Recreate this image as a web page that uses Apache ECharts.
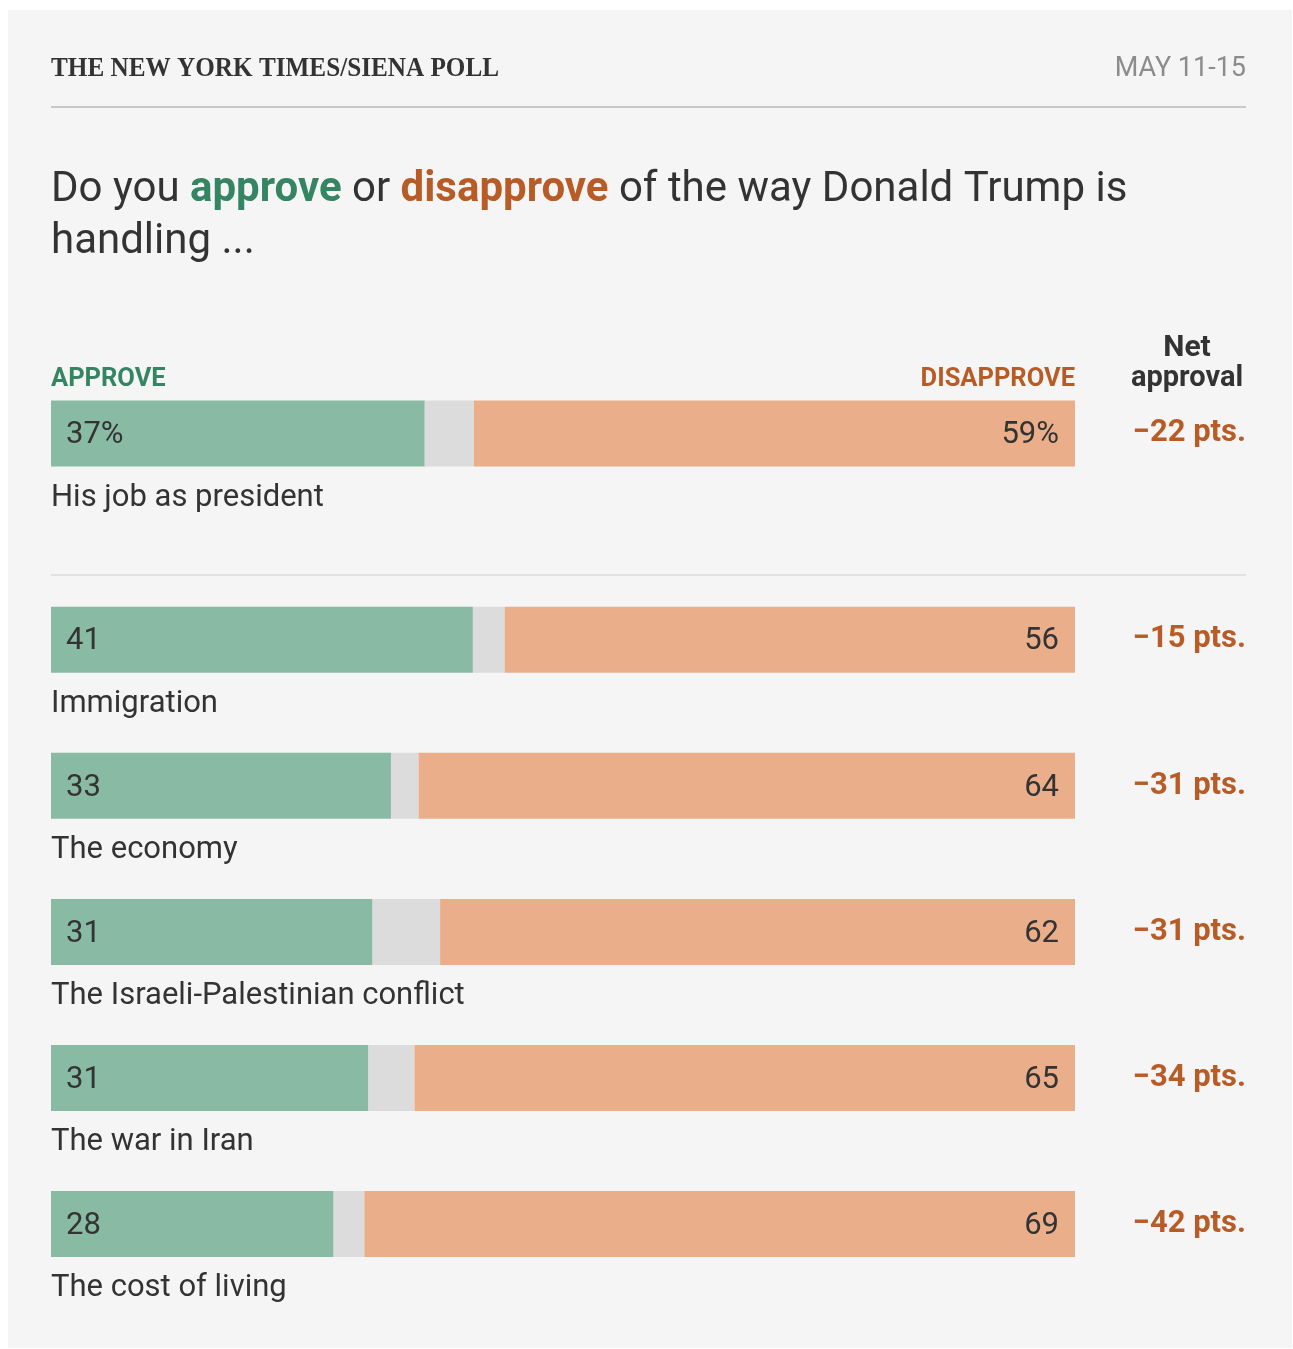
<!DOCTYPE html>
<html>
<head>
<meta charset="utf-8">
<script src="https://cdn.jsdelivr.net/npm/echarts@6/dist/echarts.min.js"></script>
<style>
  html, body { margin: 0; padding: 0; background: #ffffff; }
  #chart { width: 1293px; height: 1349px; }
</style>
</head>
<body>
<div id="chart"></div>
<script>
(function() {
  // Poll data (approve / no opinion / disapprove)
  var categories = ['His job as president', 'Immigration', 'The economy',
    'The Israeli-Palestinian conflict', 'The war in Iran', 'The cost of living'];
  var approve = [36.5, 41.2, 33.2, 31.4, 31.0, 27.6];
  var other = [4.8, 3.1, 2.7, 6.6, 4.5, 3.0];
  var disapprove = [58.7, 55.7, 64.1, 62.0, 64.5, 69.4];
  var approveLabels = ['37%', '41', '33', '31', '31', '28'];
  var disapproveLabels = ['59%', '56', '64', '62', '65', '69'];
  var netLabels = ['\u221222 pts.', '\u221215 pts.', '\u221231 pts.', '\u221231 pts.', '\u221234 pts.', '\u221242 pts.'];

  var green = '#89bba4', greenText = '#358462';
  var orange = '#eaaf8a', orangeText = '#b85c27';
  var gray = '#dcdcdc', ink = '#333333';
  var font = 'Roboto, "Liberation Sans", sans-serif';

  var chart = echarts.init(document.getElementById('chart'), null, { renderer: 'canvas' });

  // two blocks: overall job approval, then the issues
  var blocks = [
    { from: 0, to: 1, top: 360.5, height: 146 },
    { from: 1, to: 6, top: 566.7, height: 730.4 }
  ];

  var grids = [], xAxes = [], yAxes = [], series = [];
  blocks.forEach(function(b, g) {
    var cats = categories.slice(b.from, b.to);
    grids.push({ left: 51, right: 218, top: b.top, height: b.height });
    xAxes.push({
      gridIndex: g, type: 'value', min: 0, max: 100, show: false
    });
    yAxes.push({
      gridIndex: g, type: 'category', data: cats, inverse: true, position: 'left',
      axisLine: { show: false }, axisTick: { show: false },
      axisLabel: {
        inside: true, margin: 0, align: 'left', verticalAlign: 'top',
        padding: [49, 0, 0, 0], color: ink, fontSize: 31, fontFamily: font
      }
    });
    yAxes.push({
      gridIndex: g, type: 'category', data: cats, inverse: true, position: 'right',
      axisLine: { show: false }, axisTick: { show: false },
      axisLabel: {
        margin: 171, align: 'right', color: orangeText, fontSize: 31,
        fontWeight: 'bold', fontFamily: font, padding: [5, 0, 0, 0],
        formatter: function(v, i) { return netLabels[b.from + i]; }
      }
    });
    var yi = g * 2;
    series.push({
      type: 'bar', xAxisIndex: g, yAxisIndex: yi, stack: 'b' + g, barWidth: 66,
      data: approve.slice(b.from, b.to), itemStyle: { color: green },
      label: {
        show: true, position: 'insideLeft', distance: 15, offset: [0, 2], color: ink,
        fontSize: 31, fontFamily: font,
        formatter: function(p) { return approveLabels[b.from + p.dataIndex]; }
      },
      silent: true
    });
    series.push({
      type: 'bar', xAxisIndex: g, yAxisIndex: yi, stack: 'b' + g, barWidth: 66,
      data: other.slice(b.from, b.to), itemStyle: { color: gray }, silent: true
    });
    series.push({
      type: 'bar', xAxisIndex: g, yAxisIndex: yi, stack: 'b' + g, barWidth: 66,
      data: disapprove.slice(b.from, b.to), itemStyle: { color: orange },
      label: {
        show: true, position: 'insideRight', distance: 16, offset: [0, 2], color: ink,
        fontSize: 31, fontFamily: font,
        formatter: function(p) { return disapproveLabels[b.from + p.dataIndex]; }
      },
      silent: true
    });
  });

  chart.setOption({
    animation: false,
    backgroundColor: '#ffffff',
    grid: grids,
    xAxis: xAxes,
    yAxis: yAxes,
    series: series,
    graphic: [
      { type: 'rect', z: -10, shape: { x: 8, y: 10, width: 1284, height: 1338 },
        style: { fill: '#f5f5f5' } },
      { type: 'text', x: 51, y: 69, scaleX: 0.9, style: {
        text: 'THE NEW YORK TIMES/SIENA POLL', fill: ink, verticalAlign: 'middle',
        font: 'bold 28px "Liberation Serif", serif' } },
      { type: 'text', x: 1246, y: 69, style: {
        text: 'MAY 11-15', fill: '#8c8c8c', align: 'right', verticalAlign: 'middle',
        font: '27px ' + font } },
      { type: 'line', shape: { x1: 51, y1: 107, x2: 1246, y2: 107 },
        style: { stroke: '#c8c8c8', lineWidth: 2 } },
      { type: 'text', x: 51, y: 190, style: {
        text: '{n|Do you }{a|approve}{n| or }{d|disapprove}{n| of the way Donald Trump is}',
        verticalAlign: 'middle',
        rich: {
          n: { fontSize: 42, fontFamily: font, fill: ink, color: ink },
          a: { fontSize: 42, fontFamily: font, fontWeight: 'bold', fill: greenText, color: greenText },
          d: { fontSize: 42, fontFamily: font, fontWeight: 'bold', fill: orangeText, color: orangeText }
        } } },
      { type: 'text', x: 51, y: 242, style: {
        text: 'handling ...', fill: ink, verticalAlign: 'middle', font: '42px ' + font } },
      { type: 'text', x: 51, y: 380, style: {
        text: 'APPROVE', fill: greenText, verticalAlign: 'middle', font: 'bold 25.5px ' + font } },
      { type: 'text', x: 1075, y: 380, style: {
        text: 'DISAPPROVE', fill: orangeText, align: 'right', verticalAlign: 'middle',
        font: 'bold 25.5px ' + font } },
      { type: 'text', x: 1187, y: 348, style: {
        text: 'Net', fill: ink, align: 'center', verticalAlign: 'middle', font: 'bold 30px ' + font } },
      { type: 'text', x: 1187, y: 379, style: {
        text: 'approval', fill: ink, align: 'center', verticalAlign: 'middle', font: 'bold 29px ' + font } },
      { type: 'line', shape: { x1: 51, y1: 575, x2: 1246, y2: 575 },
        style: { stroke: '#e2e2e2', lineWidth: 2 } }
    ]
  });
})();
</script>
</body>
</html>
